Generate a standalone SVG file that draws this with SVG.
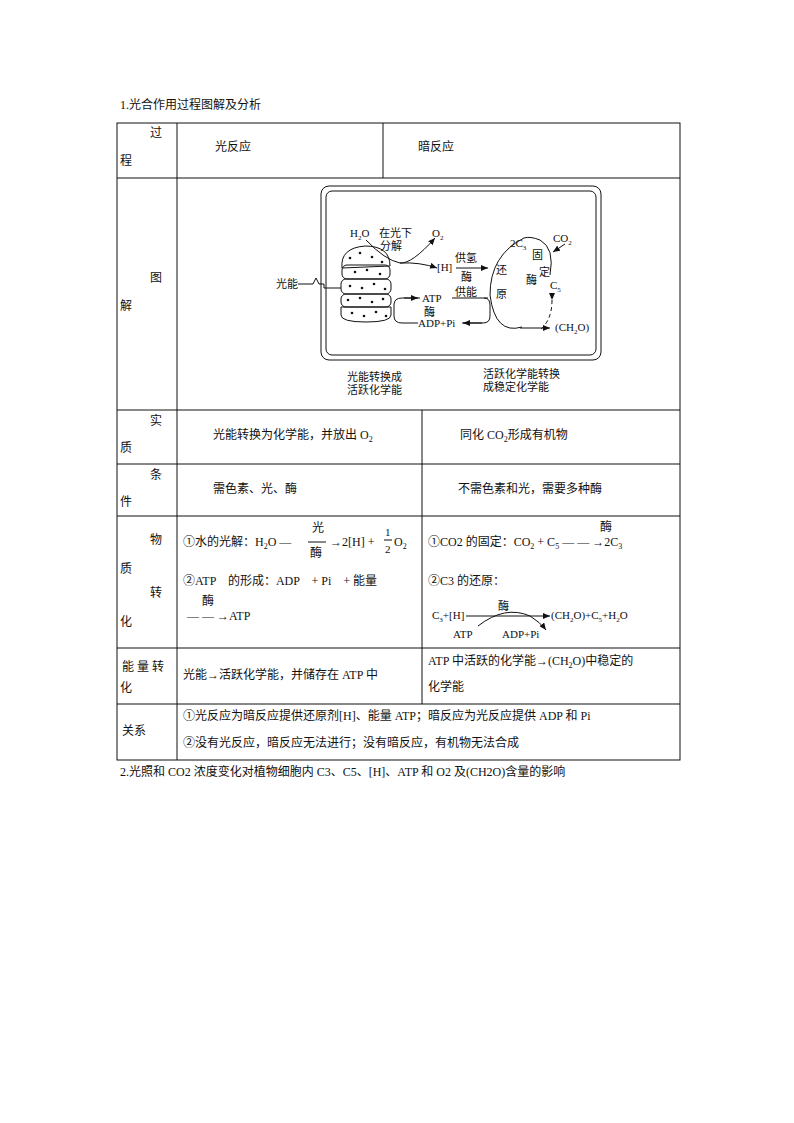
<svg xmlns="http://www.w3.org/2000/svg" width="794" height="1123" viewBox="0 0 794 1123">
<defs>
<style>
text{font-family:"Liberation Serif","Noto Sans CJK SC",serif;font-size:12px;fill:#111}
.s{font-size:11px}
.b{stroke:#111;stroke-width:1;fill:none}
</style>
<marker id="a" markerWidth="8" markerHeight="6" refX="7" refY="3" orient="auto"><path d="M0,0L7,3L0,6z" fill="#111"/></marker>
</defs>
<rect width="794" height="1123" fill="#fff"/>
<text x="120" y="109">1.光合作用过程图解及分析</text>
<g id="table" class="b">
<rect x="117" y="123" width="563" height="637"/>
<path d="M117 178H680M117 410H680M117 464H680M117 516H680M117 648H680M117 704H680M177 123V760M383 123V178M422 410V704"/>
</g>
<g id="labels">
<text x="150" y="137">过</text><text x="120" y="165">程</text>
<text x="215" y="151">光反应</text><text x="418" y="151">暗反应</text>
<text x="150" y="282">图</text><text x="120" y="310">解</text>
<text x="150" y="425">实</text><text x="120" y="452">质</text>
<text x="213" y="439">光能转换为化学能，并放出 O<tspan font-size="8" dy="3">2</tspan></text>
<text x="460" y="439">同化 CO<tspan font-size="8" dy="3">2</tspan><tspan dy="-3">形成有机物</tspan></text>
<text x="150" y="479">条</text><text x="120" y="506">件</text>
<text x="213" y="493">需色素、光、酶</text><text x="458" y="493">不需色素和光，需要多种酶</text>
<text x="150" y="544">物</text><text x="120" y="573">质</text><text x="150" y="597">转</text><text x="120" y="626">化</text>
<text x="183" y="546">①水的光解：H<tspan font-size="8" dy="3">2</tspan><tspan dy="-3">O —</tspan></text>
<text x="312" y="532">光</text><line x1="308" y1="542" x2="326" y2="542" class="b"/><text x="310" y="557">酶</text>
<text x="330" y="546">→2[H] +</text><text x="385" y="536" class="s">1</text><line x1="384" y1="540" x2="392" y2="540" class="b"/><text x="385" y="553" class="s">2</text><text x="394" y="546">O<tspan font-size="8" dy="3">2</tspan></text>
<text x="183" y="585">②ATP　的形成：ADP　+ Pi　+ 能量</text>
<text x="202" y="605">酶</text><text x="187" y="620">— — →ATP</text>
<text x="428" y="546">①CO2 的固定：CO<tspan font-size="8" dy="3">2</tspan><tspan dy="-3"> + C</tspan><tspan font-size="8" dy="3">5</tspan><tspan dy="-3"> — — →2C</tspan><tspan font-size="8" dy="3">3</tspan></text>
<text x="600" y="531">酶</text>
<text x="428" y="585">②C3 的还原：</text>
<text x="432" y="619" class="s">C<tspan font-size="7" dy="3">3</tspan><tspan dy="-3">+[H]</tspan></text>
<line x1="466" y1="616" x2="550" y2="616" class="b" marker-end="url(#a)"/>
<text x="498" y="610" class="s">酶</text>
<text x="551" y="619" class="s">(CH<tspan font-size="7" dy="3">2</tspan><tspan dy="-3">O)+C</tspan><tspan font-size="7" dy="3">5</tspan><tspan dy="-3">+H</tspan><tspan font-size="7" dy="3">2</tspan><tspan dy="-3">O</tspan></text>
<path d="M478 626Q505 605 530 616Q540 622 546 630" class="b" marker-end="url(#a)"/>
<text x="453" y="638" class="s">ATP</text><text x="502" y="638" class="s">ADP+Pi</text>
<text x="122" y="671">能 量 转</text><text x="120" y="692">化</text>
<text x="183" y="679">光能→活跃化学能，并储存在 ATP 中</text>
<text x="428" y="665">ATP 中活跃的化学能→(CH<tspan font-size="8" dy="3">2</tspan><tspan dy="-3">O)中稳定的</tspan></text>
<text x="428" y="691">化学能</text>
<text x="122" y="735">关系</text>
<text x="183" y="720">①光反应为暗反应提供还原剂[H]、能量 ATP；暗反应为光反应提供 ADP 和 Pi</text>
<text x="183" y="747">②没有光反应，暗反应无法进行；没有暗反应，有机物无法合成</text>
<text x="120" y="776">2.光照和 CO2 浓度变化对植物细胞内 C3、C5、[H]、ATP 和 O2 及(CH2O)含量的影响</text>
</g>
<g id="diagram">
<rect x="321" y="186" width="280" height="174" rx="8" class="b" stroke-width="1.5"/>
<rect x="326" y="191" width="270" height="164" rx="6" class="b"/>
<g id="grana" class="b">
<path d="M342 268Q340 248 365 246Q390 246 390 266Z"/>
<rect x="342" y="265" width="48" height="14" rx="5"/>
<rect x="341" y="279" width="50" height="15" rx="5"/>
<rect x="341" y="294" width="50" height="13" rx="5"/>
<path d="M341 307H391V315Q391 322 366 322Q341 322 341 315Z"/>
</g>
<g fill="#111">
<circle cx="350" cy="258" r="1.3"/><circle cx="360" cy="253" r="1.3"/><circle cx="372" cy="257" r="1.3"/><circle cx="382" cy="262" r="1.3"/><circle cx="355" cy="272" r="1.3"/><circle cx="367" cy="270" r="1.3"/><circle cx="380" cy="274" r="1.3"/><circle cx="350" cy="286" r="1.3"/><circle cx="362" cy="288" r="1.3"/><circle cx="374" cy="284" r="1.3"/><circle cx="385" cy="289" r="1.3"/><circle cx="348" cy="300" r="1.3"/><circle cx="360" cy="298" r="1.3"/><circle cx="372" cy="302" r="1.3"/><circle cx="383" cy="299" r="1.3"/><circle cx="352" cy="313" r="1.3"/><circle cx="364" cy="316" r="1.3"/><circle cx="376" cy="312" r="1.3"/><circle cx="386" cy="316" r="1.3"/>
</g>
<g id="connectors" class="b">
<path d="M298 284H313L316 278L319 284H324V288H341"/>
<path d="M366 240Q385 260 400 263Q412 264 435 238" marker-end="url(#a)"/>
<path d="M400 263Q420 262 437 268" marker-end="url(#a)"/>
<line x1="456" y1="268" x2="488" y2="268" marker-end="url(#a)"/>
<line x1="452" y1="298" x2="488" y2="298"/>
<path d="M420 298H402Q394 298 394 305V316Q394 323 402 323H418"/>
<path d="M462 323H483Q490 323 490 316V305Q490 298 484 298"/>
<line x1="404" y1="298" x2="418" y2="298" marker-end="url(#a)"/>
<line x1="482" y1="323" x2="463" y2="323" marker-end="url(#a)"/>
<path d="M524 238Q490 255 490 295Q495 335 522 327" />
<path d="M540 240Q555 248 550 275" />
<path d="M524 238Q530 236 540 240"/>
<path d="M552 300Q552 320 540 330" stroke-dasharray="4 3" marker-start="url(#a)"/>
<path d="M520 328H550" marker-end="url(#a)"/>
<path d="M565 244L553 252" marker-end="url(#a)"/>
</g>
<text x="350" y="237" class="s">H<tspan font-size="7" dy="3">2</tspan><tspan dy="-3">O</tspan></text>
<text x="379" y="237" class="s">在光下</text><text x="380" y="250" class="s">分解</text>
<text x="432" y="237" class="s">O<tspan font-size="7" dy="3">2</tspan></text>
<text x="437" y="271" class="s">[H]</text>
<text x="455" y="262" class="s">供氢</text><text x="461" y="281" class="s">酶</text><text x="455" y="296" class="s">供能</text>
<text x="422" y="302" class="s">ATP</text><text x="424" y="316" class="s">酶</text><text x="418" y="327" class="s">ADP+Pi</text>
<text x="510" y="247" class="s">2C<tspan font-size="7" dy="3">3</tspan></text>
<text x="553" y="242" class="s">CO<tspan font-size="7" dy="3">2</tspan></text>
<text x="496" y="274" class="s">还</text><text x="496" y="298" class="s">原</text>
<text x="526" y="284" class="s">酶</text>
<text x="532" y="259" class="s">固</text><text x="539" y="276" class="s">定</text>
<text x="550" y="289" class="s">C<tspan font-size="7" dy="3">5</tspan></text>
<text x="555" y="331" class="s">(CH<tspan font-size="7" dy="3">2</tspan><tspan dy="-3">O)</tspan></text>
<text x="276" y="288" class="s">光能</text>
<text x="347" y="381" class="s">光能转换成</text><text x="347" y="394" class="s">活跃化学能</text>
<text x="483" y="378" class="s">活跃化学能转换</text><text x="483" y="391" class="s">成稳定化学能</text>
</g>
</svg>
